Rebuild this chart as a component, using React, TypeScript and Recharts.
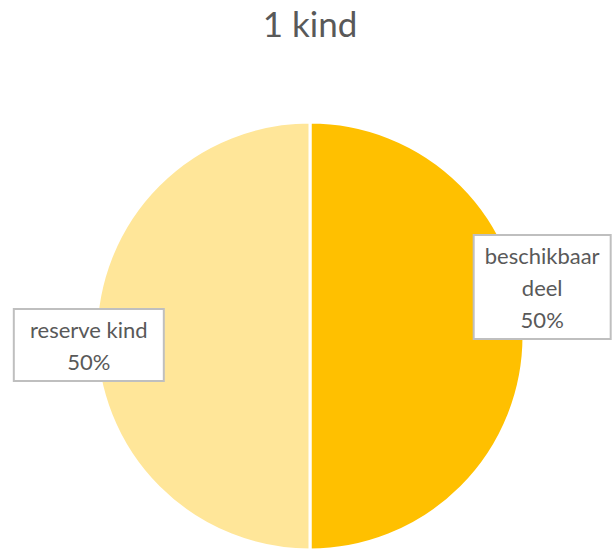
import { PieChart, Pie, Cell } from "recharts";

const title = "1 kind";
const sliceNames = ["beschikbaar deel", "reserve kind"];
const sliceValues = [50, 50];
const sliceColors = ["#FFC000", "#FFE699"];
// label text, split in lines the way the reference wraps it
const labelLines = [["beschikbaar", "deel", "50%"], ["reserve kind", "50%"]];

const data = sliceNames.map((name, i) => ({ name, value: sliceValues[i] }));

const FONT = "Lato, 'Open Sans', sans-serif";
const RAD = Math.PI / 180;

function BoxLabel(props: any) {
  const { cx, cy, midAngle, outerRadius, index } = props;
  const lines = labelLines[index];
  const lineH = 32;
  const w = index === 0 ? 137 : 150;
  const h = lines.length * lineH + 8;
  // best-fit style: box sits across the outer edge of its slice
  const mx = cx + outerRadius * 1.085 * Math.cos(-midAngle * RAD);
  const my = cy + (index === 0 ? -49 : 9);
  const x = index === 0 ? mx - w / 2 : mx - w / 2 + 11;
  const y = my - h / 2;
  return (
    <g>
      <rect x={x} y={y} width={w} height={h} fill="#ffffff" stroke="#bfbfbf" strokeWidth={2} />
      {lines.map((t, i) => (
        <text
          key={i}
          x={x + w / 2}
          y={y + 4 + lineH * i + lineH / 2}
          textAnchor="middle"
          dominantBaseline="central"
          fill="#595959"
          fontSize={22}
          fontFamily={FONT}
        >
          {t}
        </text>
      ))}
    </g>
  );
}

export default function App() {
  return (
    <div style={{ position: "fixed", left: 0, top: 0, width: 613, height: 550, background: "#fff" }}>
      <div
        style={{
          position: "absolute",
          top: 2,
          left: 0,
          width: 620,
          textAlign: "center",
          fontFamily: FONT,
          fontSize: 35,
          color: "#595959",
        }}
      >
        {title}
      </div>
      <PieChart
        width={613}
        height={550}
        margin={{ top: 0, right: 0, bottom: 0, left: 0 }}
        style={{ position: "absolute", left: 0, top: 0 }}
      >
        <Pie
          data={data}
          dataKey="value"
          nameKey="name"
          cx={310}
          cy={336}
          outerRadius={214}
          startAngle={90}
          endAngle={-270}
          stroke="#ffffff"
          strokeWidth={3}
          label={BoxLabel}
          labelLine={false}
          isAnimationActive={false}
        >
          {data.map((d, i) => (
            <Cell key={d.name} fill={sliceColors[i]} />
          ))}
        </Pie>
      </PieChart>
    </div>
  );
}
